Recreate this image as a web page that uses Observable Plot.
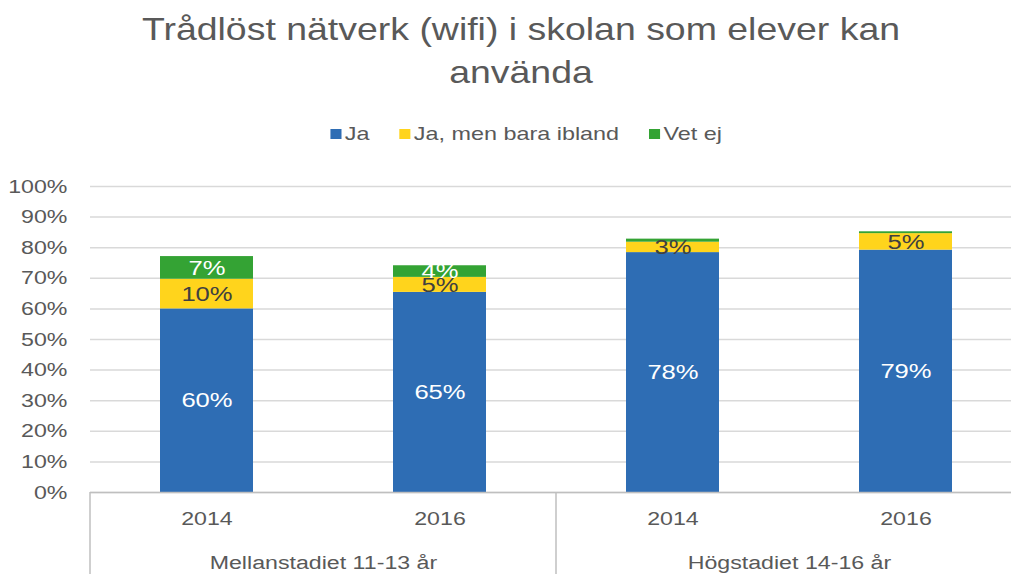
<!DOCTYPE html>
<html><head><meta charset="utf-8">
<script src="https://cdn.jsdelivr.net/npm/d3@7"></script>
<script src="https://cdn.jsdelivr.net/npm/@observablehq/plot@0.6"></script>
<style>
html,body{margin:0;padding:0;overflow:hidden;background:#fff;}
#wrap{width:1042px;font-family:"Liberation Sans",Arial,sans-serif;color:#595959;}
#title{font-size:32px;text-align:center;line-height:43px;padding-top:8px;height:86px;transform:scaleX(1.17);transform-origin:521px 0;}
#legend{height:42px;padding-top:19px;margin-bottom:5px;line-height:30px;font-size:19px;text-align:center;display:flex;justify-content:center;transform:translateX(5px) scaleX(1.23);transform-origin:521px 0;}
#legend .item{display:inline-flex;align-items:center;margin:0 12px;}
#legend .sw{display:inline-block;width:9px;height:10px;margin-right:3px;}
svg{display:block;}
</style></head>
<body><div id="wrap">
<div id="title">Trådlöst nätverk (wifi) i skolan som elever kan<br>använda</div>
<div id="legend"></div>
<div id="chart"></div>
</div>
<script>
const groups = ["Mellanstadiet 11-13 år", "Högstadiet 14-16 år"];
const years = ["2014", "2016"];
const series = ["Ja", "Ja, men bara ibland", "Vet ej"];
// bars in order: Mellan 2014, Mellan 2016, Hög 2014, Hög 2016
const barGroups = ["Mellanstadiet 11-13 år", "Mellanstadiet 11-13 år", "Högstadiet 14-16 år", "Högstadiet 14-16 år"];
const barYears = ["2014", "2016", "2014", "2016"];
const ja = [60, 65.4, 78.4, 79.2];
const jaIbland = [9.7, 4.9, 3.4, 5.4];
const vetEj = [7.4, 3.8, 1.0, 0.6];
const colors = ["#2e6db4", "#ffd41c", "#34a334"];
const labelColors = ["#ffffff", "#404040", "#ffffff"];
const yTicks = [0, 10, 20, 30, 40, 50, 60, 70, 80, 90, 100];

const values = [ja, jaIbland, vetEj];
const data = [];
series.forEach((s, si) => {
  values[si].forEach((v, i) => {
    data.push({series: s, si, group: barGroups[i], year: barYears[i], value: v});
  });
});

// legend
const legend = document.getElementById("legend");
series.forEach((s, i) => {
  const it = document.createElement("span");
  it.className = "item";
  const sw = document.createElement("span");
  sw.className = "sw";
  sw.style.background = colors[i];
  it.appendChild(sw);
  it.appendChild(document.createTextNode(s));
  legend.appendChild(it);
});

const chart = Plot.plot({
  width: 1042, height: 414,
  marginLeft: 90, marginRight: 20, marginTop: 26, marginBottom: 82,
  style: {fontFamily: "Liberation Sans, Arial, sans-serif", fontSize: "19px", color: "#595959", background: "white", overflow: "visible"},
  fx: {domain: groups, padding: 0, label: null},
  x: {domain: years, paddingInner: 0.6, paddingOuter: 0.3, label: null},
  y: {domain: [0, 100], label: null},
  color: {domain: series, range: colors},
  marks: [
    Plot.gridY(yTicks, {stroke: "#d9d9d9", strokeOpacity: 1, strokeWidth: 1.5}),
    Plot.barY(data, {fx: "group", x: "year", y: "value", fill: "series"}),
    Plot.ruleY([0], {stroke: "#bfbfbf", strokeWidth: 1.5}),
    Plot.text(data, Plot.stackY({
      fx: "group", x: "year", y: "value", z: "series",
      text: d => d.value >= 2 ? Math.round(d.value) + "%" : "",
      fill: d => labelColors[d.si],
      fontSize: 21
    })),
    Plot.axisY(yTicks, {tickSize: 0, tickPadding: 23, tickFormat: d => d + "%", fontSize: 19, fill: "#595959"}),
    Plot.axisX({tickSize: 0, tickPadding: 19, fontSize: 19, fill: "#595959", label: null}),
    Plot.axisFx({anchor: "bottom", tickSize: 0, tickPadding: 63, fontSize: 19, fill: "#595959", label: null})
  ]
});

// category dividers below the axis, derived from the fx and y scales
const fx = chart.scale("fx");
const y = chart.scale("y");
const y0 = y.apply(0);
const edges = groups.map(g => fx.apply(g)).concat([fx.apply(groups[groups.length - 1]) + fx.bandwidth]);
d3.select(chart).append("g")
  .selectAll("line").data(edges).join("line")
  .attr("x1", d => d).attr("x2", d => d)
  .attr("y1", y0).attr("y2", 414)
  .attr("stroke", "#bfbfbf").attr("stroke-width", 1.5);

document.getElementById("chart").appendChild(chart);

// the reference's lettering is horizontally wide: stretch each text around its own anchor
const sx = 1.22;
d3.select(chart).selectAll("text").each(function() {
  const bb = this.getBBox();
  if (!bb.width) return;
  const anchor = getComputedStyle(this).textAnchor;
  const ax = anchor === "middle" ? bb.x + bb.width / 2 : anchor === "end" ? bb.x + bb.width : bb.x;
  const t = this.getAttribute("transform") || "";
  this.setAttribute("transform", `${t} translate(${ax},0) scale(${sx},1) translate(${-ax},0)`);
});
</script>
</body></html>
